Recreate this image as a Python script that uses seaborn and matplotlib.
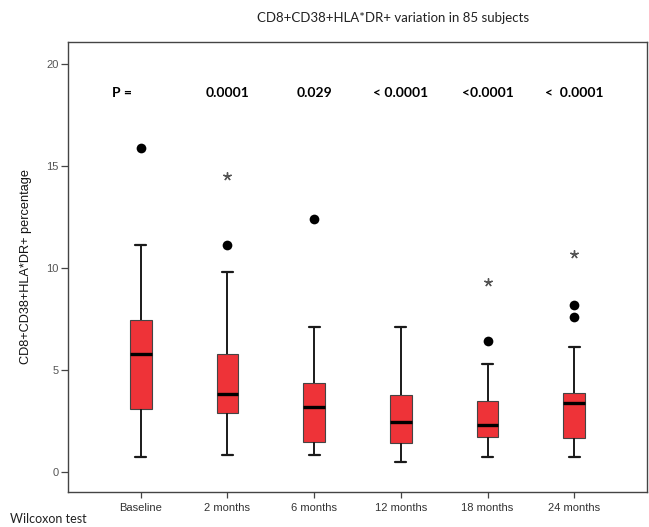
import matplotlib
matplotlib.use("Agg")
import matplotlib.pyplot as plt
import numpy as np
import pandas as pd
import seaborn as sns

# Time points
categories = ["Baseline", "2 months", "6 months", "12 months", "18 months", "24 months"]

# Box summaries per time point (lower whisker, Q1, median, Q3, upper whisker)
whisker_low = [0.70, 0.82, 0.82, 0.50, 0.70, 0.70]
q1 = [3.08, 2.90, 1.48, 1.40, 1.70, 1.66]
median = [5.80, 3.83, 3.17, 2.42, 2.27, 3.37]
q3 = [7.45, 5.76, 4.37, 3.78, 3.47, 3.84]
whisker_high = [11.1, 9.8, 7.1, 7.1, 5.3, 6.1]

# Outliers (circles) and extreme values (asterisks)
outlier_time = ["Baseline", "2 months", "6 months", "18 months", "24 months", "24 months"]
outlier_value = [15.9, 11.1, 12.4, 6.4, 8.2, 7.6]
extreme_time = ["2 months", "18 months", "24 months"]
extreme_value = [14.5, 9.3, 10.7]

# Wilcoxon test p-values shown above the boxes
p_labels = ["P =", "0.0001", "0.029", "< 0.0001", "<0.0001", "<  0.0001"]

title = "CD8+CD38+HLA*DR+ variation in 85 subjects"
ylabel = "CD8+CD38+HLA*DR+ percentage"
footnote = "Wilcoxon test"

# Five values per group reproduce the summary exactly (min, Q1, median, Q3, max)
rows = []
for i, c in enumerate(categories):
    for v in (whisker_low[i], q1[i], median[i], q3[i], whisker_high[i]):
        rows.append({"time": c, "value": v})
box_df = pd.DataFrame(rows)
out_df = pd.DataFrame({"time": outlier_time, "value": outlier_value})
ext_df = pd.DataFrame({"time": extreme_time, "value": extreme_value})

sns.set_style("white")
plt.rcParams["font.family"] = ["Liberation Sans", "DejaVu Sans"]

W, H = 649, 527
fig = plt.figure(figsize=(W / 100, H / 100), dpi=100)
left, right, top, bottom = 68.3, 646.7, 41.7, 492.3
ax = fig.add_axes([left / W, 1 - bottom / H, (right - left) / W, (bottom - top) / H])

sns.boxplot(
    data=box_df, x="time", y="value", order=categories, ax=ax,
    whis=(0, 100), width=0.25, color="#EE3338", saturation=1,
    linecolor="#1a1a1a", linewidth=1.3,
    boxprops=dict(edgecolor="#444444", linewidth=0.8),
    medianprops=dict(color="black", linewidth=2.4),
    whiskerprops=dict(color="#1a1a1a", linewidth=1.4),
    capprops=dict(color="#1a1a1a", linewidth=1.6),
    showfliers=False,
)

sns.stripplot(
    data=out_df, x="time", y="value", order=categories, ax=ax,
    jitter=False, color="black", size=7, linewidth=0,
)
sns.stripplot(
    data=ext_df, x="time", y="value", order=categories, ax=ax,
    jitter=False, color="#555555", edgecolor="#555555", marker=(5, 2, 0),
    size=5.5, linewidth=1.0,
)

for i, lab in enumerate(p_labels):
    xpos = i - 0.216 if i == 0 else i
    ax.text(xpos, 18.57, lab, ha="center", va="center", fontsize=10,
            fontweight="bold", family=["Lato", "DejaVu Sans"], color="black")

ax.set_xlim(-0.835, 5.835)
ax.set_ylim(-1.01, 21.1)
ax.set_yticks([0, 5, 10, 15, 20])
ax.set_xlabel("")
ax.set_ylabel(ylabel, fontsize=9.2, color="#111111", labelpad=10)

for s in ax.spines.values():
    s.set_visible(True)
    s.set_color("#444444")
    s.set_linewidth(1.0)

ax.tick_params(axis="y", which="both", left=True, length=5, width=0.9,
               color="#444444", labelsize=8, labelcolor="#555555", pad=2)
ax.tick_params(axis="x", which="both", bottom=True, length=4, width=0.9,
               color="#444444", labelsize=8, labelcolor="#333333", pad=4)

fig.text(393 / W, 1 - 18 / H, title, ha="center", va="center",
         fontsize=9.5, family=["Lato", "DejaVu Sans"], color="#222222")
fig.text(10 / W, 1 - 519 / H, footnote, ha="left", va="center",
         fontsize=9, family=["Lato", "DejaVu Sans"], color="#222222")

fig.savefig("out.png", dpi=100)
